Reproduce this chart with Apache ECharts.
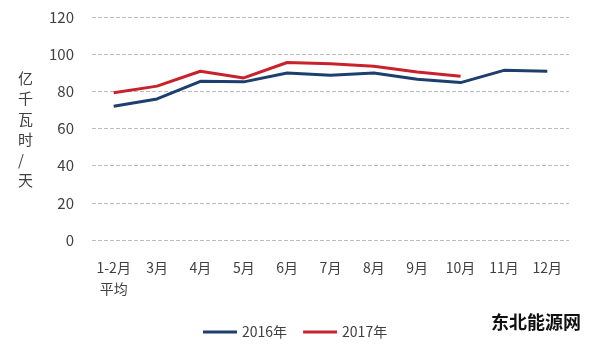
<!DOCTYPE html>
<html>
<head>
<meta charset="utf-8">
<script src="https://cdn.jsdelivr.net/npm/echarts@6/dist/echarts.min.js"></script>
<style>
  html, body { margin: 0; padding: 0; background: #ffffff; }
  #chart { width: 600px; height: 345px; }
</style>
</head>
<body>
<div id="chart"></div>
<script>
// Daily electricity consumption by month (亿千瓦时/天)
const months = ['1-2月\n平均', '3月', '4月', '5月', '6月', '7月', '8月', '9月', '10月', '11月', '12月'];
const values2016 = [72.0, 75.9, 85.4, 85.1, 89.9, 88.7, 89.9, 86.5, 84.7, 91.3, 90.8];
const values2017 = [79.2, 82.8, 90.8, 87.2, 95.5, 94.9, 93.5, 90.4, 88.1, null, null];
const yTicks = [0, 20, 40, 60, 80, 100, 120];
const unitName = '亿千瓦时/天';

const baseFont = '"Noto Sans CJK SC", "Liberation Sans", sans-serif';

const chart = echarts.init(document.getElementById('chart'), null, { renderer: 'canvas' });
chart.setOption({
  backgroundColor: '#ffffff',
  animation: false,
  textStyle: { fontFamily: baseFont },
  grid: { left: 92, right: 31, top: 17, bottom: 105, containLabel: false },
  legend: {
    bottom: 1,
    left: 198,
    itemWidth: 34,
    itemHeight: 3,
    itemGap: 16,
    icon: 'rect',
    textStyle: { color: '#404040', fontSize: 14, fontFamily: baseFont },
    data: ['2016年', '2017年']
  },
  xAxis: {
    type: 'category',
    data: months,
    boundaryGap: true,
    axisLine: { show: false },
    axisTick: { show: false },
    axisLabel: {
      color: '#404040',
      fontSize: 14,
      lineHeight: 21,
      margin: 17,
      interval: 0,
      fontFamily: baseFont
    }
  },
  yAxis: {
    type: 'value',
    min: yTicks[0],
    max: yTicks[yTicks.length - 1],
    interval: yTicks[1] - yTicks[0],
    axisLine: { show: false },
    axisTick: { show: false },
    axisLabel: { color: '#404040', fontSize: 15, margin: 18, fontFamily: baseFont },
    splitLine: { lineStyle: { color: '#bdbdbd', type: [4, 2], width: 1 } }
  },
  graphic: [
    {
      type: 'text',
      left: 18,
      top: 68,
      style: {
        text: unitName.split('').join('\n'),
        fill: '#404040',
        font: '15px ' + baseFont,
        lineHeight: 20.5,
        align: 'center'
      }
    },
    {
      type: 'text',
      left: 491,
      top: 313,
      style: {
        text: '东北能源网',
        fill: '#111111',
        font: 'bold 18px ' + baseFont
      }
    }
  ],
  series: [
    {
      name: '2016年',
      type: 'line',
      data: values2016,
      symbol: 'none',
      color: '#1d3f6e',
      lineStyle: { width: 3, color: '#1d3f6e' },
      z: 3
    },
    {
      name: '2017年',
      type: 'line',
      data: values2017,
      symbol: 'none',
      color: '#c8232c',
      lineStyle: { width: 3, color: '#c8232c' },
      z: 2
    }
  ]
});
</script>
</body>
</html>
